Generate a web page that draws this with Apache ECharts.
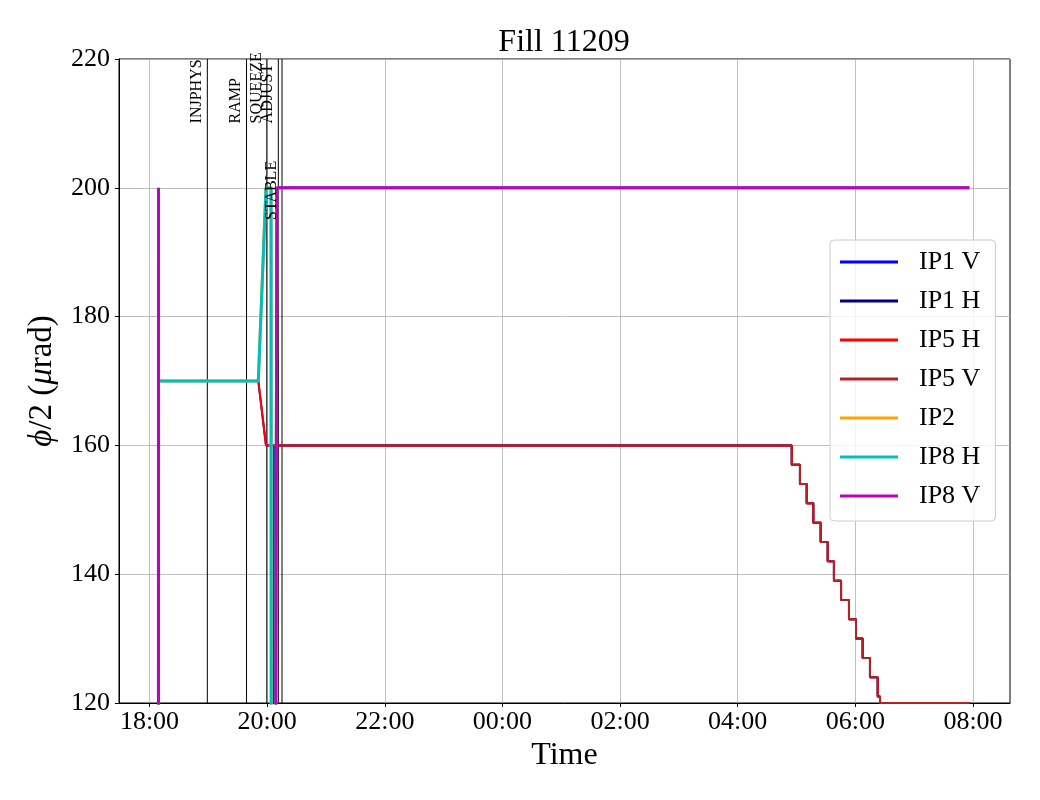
<!DOCTYPE html>
<html>
<head>
<meta charset="utf-8">
<script src="https://cdn.jsdelivr.net/npm/echarts@6/dist/echarts.min.js"></script>
<style>
html,body{margin:0;padding:0;background:#ffffff;}
#chart{width:1040px;height:800px;}
</style>
</head>
<body>
<div id="chart"></div>
<script>
// ---------------- DATA ----------------
const seriesNames  = ['IP1 V', 'IP1 H', 'IP5 H', 'IP5 V', 'IP2', 'IP8 H', 'IP8 V'];

// IP1/IP5 levelling steps (time, value after step)
const stairTimes  = ['2025-07-11 04:55:10','2025-07-11 05:03:30','2025-07-11 05:10:25','2025-07-11 05:17:05',
                     '2025-07-11 05:24:40','2025-07-11 05:31:50','2025-07-11 05:38:10','2025-07-11 05:45:25',
                     '2025-07-11 05:53:30','2025-07-11 06:00:40','2025-07-11 06:07:30','2025-07-11 06:14:55',
                     '2025-07-11 06:22:50','2025-07-11 06:25:10'];
const stairValues = [157, 154, 151, 148, 145, 142, 139, 136, 133, 130, 127, 124, 121, 120];
const stairEnd    = ['2025-07-11 07:56:20', 120];

// Start of each series (before levelling steps)
const ip1vStart = [['2025-07-10 20:06:40', 0], ['2025-07-10 20:07:10', 160]];
const ip1hStart = [['2025-07-10 18:09:00', 0], ['2025-07-10 18:09:15', 170],
                   ['2025-07-10 19:51:00', 170], ['2025-07-10 19:58:50', 160]];
const ip5hStart = [['2025-07-10 18:09:00', 0], ['2025-07-10 18:09:15', 170],
                   ['2025-07-10 19:51:00', 170], ['2025-07-10 19:58:50', 160]];
const ip5vStart = [['2025-07-10 20:08:30', 0], ['2025-07-10 20:09:00', 160]];

const ip2Points  = [['2025-07-10 18:09:00', 0], ['2025-07-10 18:09:15', 170],
                    ['2025-07-10 19:51:00', 170], ['2025-07-10 19:58:50', 200],
                    ['2025-07-10 20:04:00', 200], ['2025-07-10 20:04:30', 0],
                    ['2025-07-10 20:07:00', 0], ['2025-07-10 20:10:00', 200],
                    ['2025-07-11 07:56:20', 200]];
const ip8hPoints = [['2025-07-10 18:09:00', 0], ['2025-07-10 18:09:15', 170],
                    ['2025-07-10 19:51:00', 170], ['2025-07-10 19:58:50', 200],
                    ['2025-07-10 20:04:00', 200], ['2025-07-10 20:04:30', 0],
                    ['2025-07-10 20:07:00', 0], ['2025-07-10 20:10:00', 200],
                    ['2025-07-11 07:56:20', 200]];
const ip8vPoints = [['2025-07-10 18:09:00', 0], ['2025-07-10 18:09:10', 200],
                    ['2025-07-10 18:09:20', 0], ['2025-07-10 20:07:00', 0],
                    ['2025-07-10 20:10:00', 200], ['2025-07-11 07:56:20', 200]];

// Beam modes
const eventNames  = ['INJPHYS', 'RAMP', 'SQUEEZE', 'ADJUST', 'STABLE'];
const eventTimes  = ['2025-07-10 18:59:00', '2025-07-10 19:39:00', '2025-07-10 19:59:40',
                     '2025-07-10 20:11:25', '2025-07-10 20:15:10'];
const eventLabelY = [210, 210, 210, 210, 195];

// Axes
const xRange      = ['2025-07-10 17:28:54', '2025-07-11 08:37:45'];
const xTickTimes  = ['2025-07-10 18:00:00','2025-07-10 20:00:00','2025-07-10 22:00:00','2025-07-11 00:00:00',
                     '2025-07-11 02:00:00','2025-07-11 04:00:00','2025-07-11 06:00:00','2025-07-11 08:00:00'];
const yMin = 120, yMax = 220, yStep = 20;

// ---------------- STYLE ----------------
const seriesColors = ['#0000ff', '#000080', '#ff0000', '#b22222', '#ffa500', '#00bfbf', '#bf00bf'];
const seriesWidths = [2, 2, 2, 2, 3, 3, 3];
const FONT = '"Liberation Serif", "DejaVu Serif", serif';

// ---------------- BUILD ----------------
function toMs(s) { return new Date(s.replace(' ', 'T')).getTime(); }
function pad(n) { return (n < 10 ? '0' : '') + n; }
function conv(points) { return points.map(p => [toMs(p[0]), p[1]]); }
function withStairs(start) {
  const out = conv(start);
  let prev = start[start.length - 1][1];
  for (let i = 0; i < stairTimes.length; i++) {
    const t = toMs(stairTimes[i]);
    out.push([t, prev]);
    out.push([t, stairValues[i]]);
    prev = stairValues[i];
  }
  out.push([toMs(stairEnd[0]), stairEnd[1]]);
  return out;
}

const seriesData = [
  withStairs(ip1vStart),
  withStairs(ip1hStart),
  withStairs(ip5hStart),
  withStairs(ip5vStart),
  conv(ip2Points),
  conv(ip8hPoints),
  conv(ip8vPoints)
];

const eventData = eventTimes.map((t, i) => [toMs(t), eventLabelY[i]]);

const lineSeries = seriesNames.map((name, i) => ({
  name: name,
  type: 'line',
  data: seriesData[i],
  symbol: 'none',
  showSymbol: false,
  clip: true,
  color: seriesColors[i],
  lineStyle: { color: seriesColors[i], width: seriesWidths[i] },
  emphasis: { disabled: true },
  silent: true
}));

const chart = echarts.init(document.getElementById('chart'), null, { renderer: 'canvas' });

chart.setOption({
  animation: false,
  backgroundColor: '#ffffff',
  title: {
    text: 'Fill 11209',
    left: 564,
    top: 27,
    padding: 0,
    textAlign: 'center',
    textStyle: { fontFamily: FONT, fontSize: 32, fontWeight: 'normal', color: '#000' }
  },
  grid: {
    left: 119, right: 30, top: 59, bottom: 97,
    show: true, borderColor: '#000', borderWidth: 1, backgroundColor: 'transparent'
  },
  legend: {
    data: seriesNames,
    orient: 'vertical',
    left: 830,
    top: 240,
    icon: 'rect',
    itemWidth: 58,
    itemHeight: 3,
    itemGap: 9,
    padding: [7, 15, 10, 10],
    backgroundColor: 'rgba(255,255,255,0.8)',
    borderColor: '#cccccc',
    borderWidth: 1,
    borderRadius: 4,
    selectedMode: false,
    textStyle: { fontFamily: FONT, fontSize: 26, color: '#000', lineHeight: 30, padding: [0, 0, 0, 16] }
  },
  xAxis: {
    type: 'value',
    min: toMs(xRange[0]),
    max: toMs(xRange[1]),
    name: 'Time',
    nameLocation: 'middle',
    nameGap: 32,
    nameTextStyle: { fontFamily: FONT, fontSize: 32, color: '#000' },
    axisLine: { show: true, lineStyle: { color: '#000', width: 1 } },
    axisTick: { show: true, length: 4, lineStyle: { color: '#000' }, customValues: xTickTimes.map(toMs) },
    axisLabel: {
      customValues: xTickTimes.map(toMs),
      margin: 6,
      fontFamily: FONT, fontSize: 26, color: '#000',
      formatter: function (v) { const d = new Date(v); return pad(d.getHours()) + ':' + pad(d.getMinutes()); }
    },
    splitLine: { show: true, lineStyle: { color: '#b0b0b0', width: 0.8 } }
  },
  yAxis: {
    type: 'value',
    min: yMin, max: yMax, interval: yStep,
    name: '{i|ϕ}/2 ({i|μ}rad)',
    nameLocation: 'middle',
    nameGap: 60,
    nameTextStyle: {
      fontFamily: FONT, fontSize: 33, color: '#000',
      rich: { i: { fontFamily: FONT, fontSize: 33, fontStyle: 'italic', color: '#000' } }
    },
    axisLine: { show: true, lineStyle: { color: '#000', width: 1 } },
    axisTick: { show: true, length: 4, lineStyle: { color: '#000' } },
    axisLabel: { margin: 9, fontFamily: FONT, fontSize: 26, color: '#000' },
    splitLine: { show: true, lineStyle: { color: '#b0b0b0', width: 0.8 } }
  },
  series: [
    {
      name: 'modeLines',
      type: 'custom',
      data: eventData,
      encode: { x: 0, y: 1 },
      silent: true,
      z: 1,
      renderItem: function (params, api) {
        const top = api.coord([api.value(0), yMax]);
        const bot = api.coord([api.value(0), yMin]);
        return {
          type: 'line',
          shape: { x1: top[0], y1: top[1], x2: bot[0], y2: bot[1] },
          style: { stroke: '#000', lineWidth: 1 }
        };
      }
    }
  ].concat(lineSeries).concat([
    {
      name: 'modeLabels',
      type: 'custom',
      data: eventData,
      encode: { x: 0, y: 1 },
      silent: true,
      z: 5,
      renderItem: function (params, api) {
        const p = api.coord([api.value(0), api.value(1)]);
        return {
          type: 'text',
          x: p[0] - 2.5,
          y: p[1],
          rotation: Math.PI / 2,
          style: {
            text: eventNames[params.dataIndex],
            fill: '#000',
            font: '16px ' + FONT,
            align: 'left',
            verticalAlign: 'bottom'
          }
        };
      }
    }
  ])
});
</script>
</body>
</html>
